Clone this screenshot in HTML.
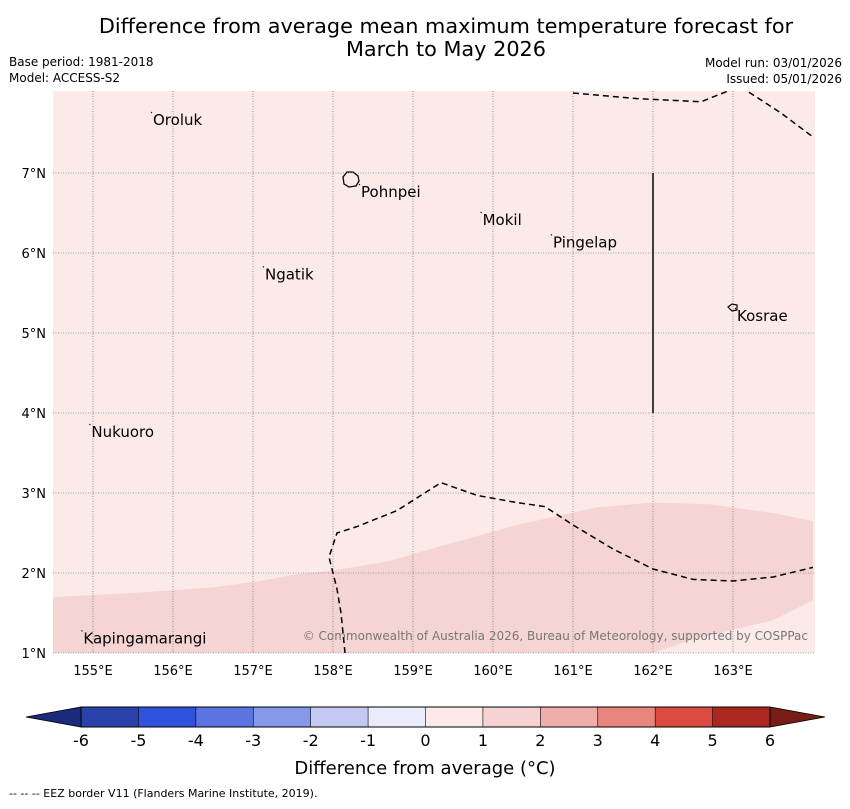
<!DOCTYPE html>
<html><head><meta charset="utf-8"><style>
body{margin:0;background:#fff;width:850px;height:804px;overflow:hidden;font-family:"Liberation Sans","DejaVu Sans",sans-serif}
</style></head><body>
<svg id="s" width="850" height="804" xmlns="http://www.w3.org/2000/svg" font-family="DejaVu Sans, Liberation Sans, sans-serif">
<text x="446" y="33" font-size="20.8" text-anchor="middle">Difference from average mean maximum temperature forecast for</text>
<text x="446" y="56" font-size="20.8" text-anchor="middle">March to May 2026</text>
<text x="9" y="66" font-size="12">Base period: 1981-2018</text>
<text x="9" y="82" font-size="12">Model: ACCESS-S2</text>
<text x="842" y="67" font-size="12" text-anchor="end">Model run: 03/01/2026</text>
<text x="842" y="83" font-size="12" text-anchor="end">Issued: 05/01/2026</text>
<g id="map"></g>
<g id="cbar"></g>
<text x="425" y="774" font-size="18" text-anchor="middle">Difference from average (°C)</text>
<text x="9" y="797" font-size="11">--  --  -- EEZ border V11 (Flanders Marine Institute, 2019).</text>
</svg>
<script>
const lonTicks=[155,156,157,158,159,160,161,162,163];
const latTicks=[1,2,3,4,5,6,7];
const bandTop=[[154.5,1.7],[155.5,1.75],[156.5,1.82],[157.1,1.9],[157.5,1.98],[158,2.03],[158.7,2.15],[159.5,2.38],[160.3,2.6],[161.3,2.82],[162,2.88],[162.7,2.86],[163.5,2.75],[164,2.65]];
const bandBottomRight=[[164,1.66],[163.5,1.41],[162.5,1.17],[162,1.0]];
const eezSouth=[[158.15,1],[158.1,1.5],[158.05,1.8],[157.95,2.2],[158.05,2.5],[158.3,2.58],[158.8,2.78],[159.35,3.13],[159.8,2.97],[160.3,2.88],[160.65,2.83],[161,2.6],[161.5,2.3],[162,2.05],[162.5,1.92],[163,1.9],[163.5,1.95],[164,2.07]];
const eezNorth=[[161,8.0],[161.8,7.93],[162.6,7.89],[162.95,8.03]];
const eezNorth2=[[163.2,8.01],[163.6,7.75],[164,7.45]];
const solidLine=[[162,4],[162,7]];
const islands=[["Oroluk",155.75,7.6],["Pohnpei",158.35,6.7],["Mokil",159.87,6.35],["Pingelap",160.75,6.07],["Ngatik",157.15,5.67],["Kosrae",163.05,5.15],["Nukuoro",154.98,3.7],["Kapingamarangi",154.88,1.12]];
const cbColors=["#2a40aa","#2f52dc","#5b74e1","#8598ea","#c3c9f3","#eaecfb","#fbeae8","#f6d3d2","#efaea9","#e8857d","#dc4b40","#ab2820"];
const cbTicks=[-6,-5,-4,-3,-2,-1,0,1,2,3,4,5,6];
const NS="http://www.w3.org/2000/svg";
const X=l=>53+(l-154.5)*80, Y=a=>653-(a-1)*80;
function mk(t,a,p){const e=document.createElementNS(NS,t);for(const k in a)e.setAttribute(k,a[k]);(p||map).appendChild(e);return e;}
const map=document.getElementById('map');
let r=mk('rect',{x:53,y:91,width:762,height:562,fill:'#fbeae8'});


let pts=bandTop.map(p=>X(p[0])+','+Y(p[1]));
bandBottomRight.forEach(p=>pts.push(X(p[0])+','+Y(p[1])));
pts.push(X(154.5)+','+Y(1));
let band=mk('polygon',{points:pts.join(' '),fill:'#f5d5d4'});


lonTicks.forEach(l=>{
 let g=mk('line',{x1:X(l),x2:X(l),y1:91,y2:653,stroke:'#555','stroke-width':0.6,'stroke-dasharray':'1,1.5'});
 
 
 let t=mk('text',{x:X(l),y:675,'font-size':13,'text-anchor':'middle'});t.textContent=l+'°E';
 
 
});
latTicks.forEach(a=>{
 let g=mk('line',{x1:53,x2:815,y1:Y(a),y2:Y(a),stroke:'#555','stroke-width':0.6,'stroke-dasharray':'1,1.5'});
 
 
 let t=mk('text',{x:46,y:Y(a)+5,'font-size':13,'text-anchor':'end'});t.textContent=a+'°N';
 
 
});
[eezSouth,eezNorth,eezNorth2].forEach(L=>{
 let p=mk('polyline',{points:L.map(q=>X(q[0])+','+Y(q[1])).join(' '),fill:'none',stroke:'#000','stroke-width':1.5,'stroke-dasharray':'6,4'});
 
 
});
let sl=mk('line',{x1:X(solidLine[0][0]),y1:Y(solidLine[0][1]),x2:X(solidLine[1][0]),y2:Y(solidLine[1][1]),stroke:'#000','stroke-width':1.5});


let pb=mk('path',{d:'M343,177 l4,-5 l6,0 l5,4 l1,5 l-3,5 l-7,1 l-5,-3 z',fill:'none',stroke:'#000','stroke-width':1.3});


let kb=mk('path',{d:'M728,307 l4,-3 l5,1 l0,5 l-5,1 z',fill:'none',stroke:'#000','stroke-width':1.2});


islands.forEach(d=>{
 let t=mk('text',{x:X(d[1]),y:Y(d[2]),'font-size':15});t.textContent=d[0];
 
 
 let m=mk('line',{x1:X(d[1])-2,y1:Y(d[2])-13,x2:X(d[1])-1,y2:Y(d[2])-12,stroke:'#000','stroke-width':1});
 
 
});
let cp=mk('text',{x:808,y:640,'font-size':12,'text-anchor':'end',fill:'#777'});
cp.textContent='© Commonwealth of Australia 2026, Bureau of Meteorology, supported by COSPPac';


const cb=document.getElementById('cbar');
const cx0=81,cw=(770-81)/12,cy=707,ch=20;
let lt=mk('polygon',{points:`${cx0},${cy} ${cx0},${cy+ch} 26,${cy+ch/2}`,fill:'#1b2b7a',stroke:'#000','stroke-width':0.8},cb);


let rt=mk('polygon',{points:`770,${cy} 770,${cy+ch} 825,${cy+ch/2}`,fill:'#781c18',stroke:'#000','stroke-width':0.8},cb);


cbColors.forEach((c,i)=>{
 let b=mk('rect',{x:cx0+i*cw,y:cy,width:cw,height:ch,fill:c},cb);
 
 
});
let fr=mk('rect',{x:cx0,y:cy,width:770-cx0,height:ch,fill:'none',stroke:'#000','stroke-width':1},cb);


cbTicks.forEach((v,i)=>{
 let x=cx0+i*cw;
 let l=mk('line',{x1:x,x2:x,y1:cy,y2:cy+ch,stroke:'#000','stroke-width':0.6},cb);
 
 
 let t=mk('text',{x:x,y:746,'font-size':16,'text-anchor':'middle'},cb);t.textContent=v;
 
 
});
</script>
</body></html>
